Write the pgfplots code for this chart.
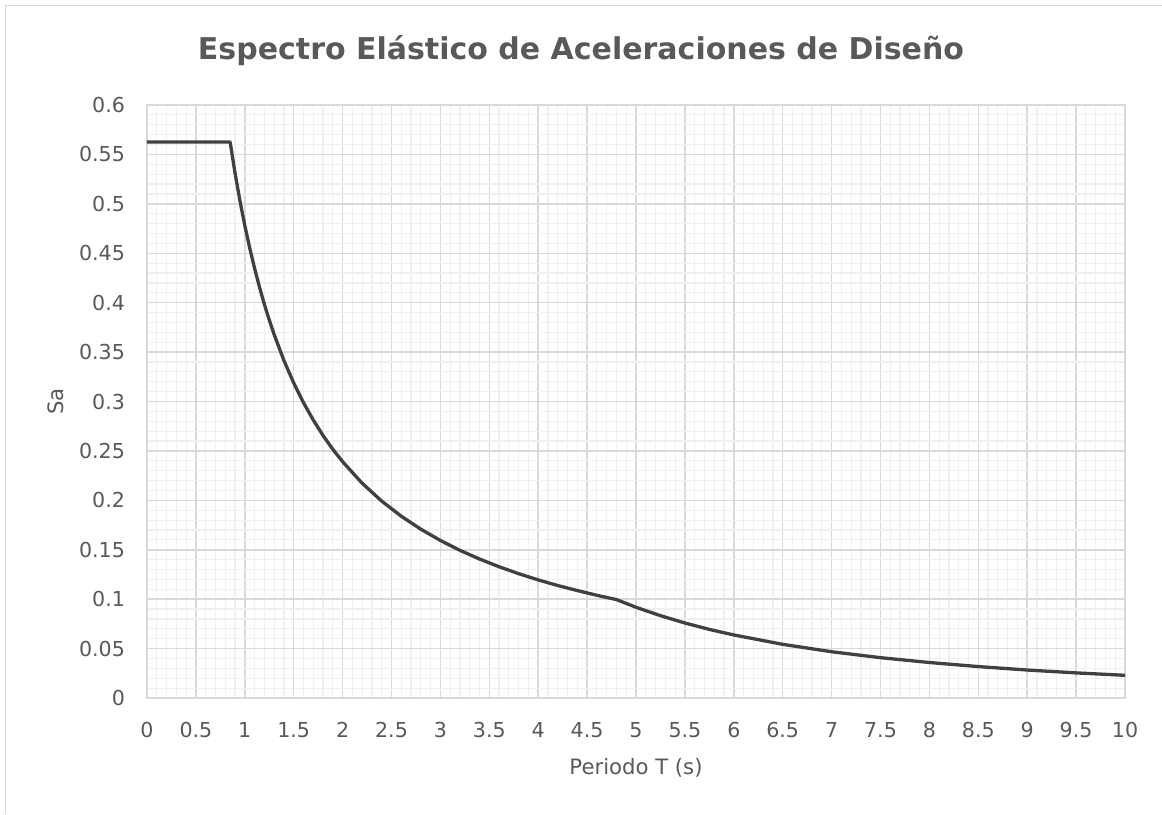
\documentclass[border=0pt]{standalone}
\usepackage{pgfplots}
\pgfplotsset{compat=1.18}
\usepackage{fontspec}
\setmainfont{DejaVu Sans}
\definecolor{txtgray}{HTML}{595959}
\definecolor{majgrid}{HTML}{D9D9D9}
\definecolor{mingrid}{HTML}{F0F0F0}
\definecolor{curve}{HTML}{404040}
\begin{document}
\begin{tikzpicture}[x=1pt,y=1pt]
\path[use as bounding box] (0,0) rectangle (581,407);
\draw[majgrid, line width=0.75pt] (2.85,0) -- (2.85,404.15) -- (581,404.15);
\begin{axis}[
  at={(73.5pt,58pt)}, anchor=south west,
  scale only axis, width=489pt, height=296.5pt,
  xmin=0, xmax=10, ymin=0, ymax=0.6,
  xtick={0,0.5,...,10},
  xticklabels={0,0.5,1,1.5,2,2.5,3,3.5,4,4.5,5,5.5,6,6.5,7,7.5,8,8.5,9,9.5,10},
  ytick={0,0.05,0.1,0.15,0.2,0.25,0.3,0.35,0.4,0.45,0.5,0.55,0.6},
  yticklabels={0,0.05,0.1,0.15,0.2,0.25,0.3,0.35,0.4,0.45,0.5,0.55,0.6},
  minor x tick num=4, minor y tick num=4,
  major tick length=0pt, minor tick length=0pt,
  grid=both,
  major grid style={majgrid, line width=0.75pt},
  minor grid style={mingrid, line width=0.6pt},
  axis line style={majgrid, line width=0.75pt},
  ticklabel style={font=\fontsize{10.3}{12}\selectfont, text=txtgray},
  xticklabel style={text height=7.5pt, text depth=0pt},
  /pgf/number format/assume math mode=true,
  xticklabel shift=8.5pt,
  yticklabel shift=7.5pt,
  xlabel={Periodo T (s)},
  ylabel={Sa},
  label style={font=\fontsize{10.6}{12}\selectfont, text=txtgray},
  xlabel style={at={(axis description cs:0.5,0)}, anchor=center, yshift=-35pt},
  ylabel style={at={(axis description cs:-0.093,0.5)}, anchor=center},
]
\addplot[curve, line width=1.65pt, line join=round, line cap=round] coordinates {
(0,0.5625) (0.85,0.5625) (0.9,0.5313) (0.95,0.5033) (1.0,0.4781)
(1.05,0.4554) (1.1,0.4347) (1.15,0.4158) (1.2,0.3984) (1.25,0.3825)
(1.3,0.3678) (1.4,0.3415) (1.5,0.3188) (1.6,0.2988) (1.7,0.2813)
(1.8,0.2656) (1.9,0.2516) (2.0,0.2391) (2.2,0.2173) (2.4,0.1992)
(2.6,0.1839) (2.8,0.1708) (3.0,0.1594) (3.2,0.1494) (3.4,0.1406)
(3.6,0.1328) (3.8,0.1258) (4.0,0.1195) (4.2,0.1138) (4.4,0.1087)
(4.6,0.1039) (4.8,0.0996) (5.0,0.0918) (5.25,0.0833) (5.5,0.0759)
(5.75,0.0694) (6.0,0.0638) (6.5,0.0543) (7.0,0.0468) (7.5,0.0408)
(8.0,0.0359) (8.5,0.0318) (9.0,0.0283) (9.5,0.0254) (10.0,0.02295)
};
\end{axis}
\node[anchor=base, font=\fontsize{15}{18}\selectfont\bfseries, text=txtgray] at (290.5,377) {Espectro Elástico de Aceleraciones de Diseño};
\end{tikzpicture}
\end{document}
